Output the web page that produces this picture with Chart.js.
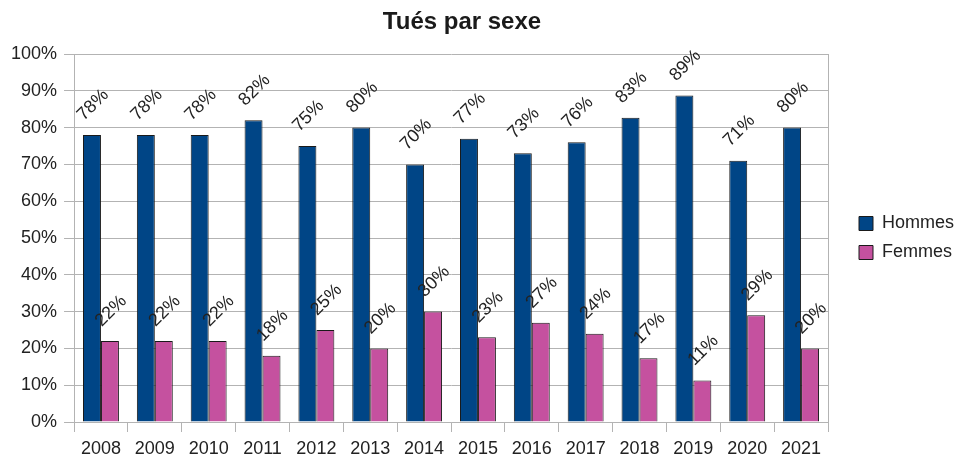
<!DOCTYPE html>
<html>
<head>
<meta charset="utf-8">
<script src="https://cdn.jsdelivr.net/npm/chart.js@4/dist/chart.umd.min.js"></script>
<style>
  body { margin: 0; background: #fff; }
  #wrap { width: 956px; height: 457px; }
</style>
</head>
<body>
<div id="wrap"><canvas id="chart"></canvas></div>
<script>
const years = ['2008', '2009', '2010', '2011', '2012', '2013', '2014', '2015', '2016', '2017', '2018', '2019', '2020', '2021']
const hommes = [78, 78, 78, 82, 75, 80, 70, 77, 73, 76, 82.7, 88.7, 71, 80]
const femmes = [22, 22, 22, 18, 25, 20, 30, 23, 27, 24, 17.3, 11.3, 29, 20]

const titleText = 'Tués par sexe'
const gridColor = '#b3b3b3'
const fontFamily = '"Liberation Sans", Arial, sans-serif'

// rotated value labels above each bar
const barLabels = {
    id: 'barLabels',
    afterDatasetsDraw(chart) {
        const ctx = chart.ctx
        ctx.save()
        ctx.font = '18px ' + fontFamily
        ctx.fillStyle = '#222'
        ctx.textAlign = 'center'
        ctx.textBaseline = 'middle'
        chart.data.datasets.forEach((ds, i) => {
            chart.getDatasetMeta(i).data.forEach((bar, j) => {
                ctx.save()
                ctx.translate(bar.x + 1, bar.y - 30)
                ctx.rotate(-Math.PI / 4)
                ctx.fillText(Math.round(ds.data[j]) + '%', 0, 0)
                ctx.restore()
            })
        })
        ctx.restore()
    }
}

// title sits a little left of the page centre in the original
const chartTitle = {
    id: 'chartTitle',
    afterDraw(chart) {
        const ctx = chart.ctx
        ctx.save()
        ctx.font = 'bold 24px ' + fontFamily
        ctx.fillStyle = '#1a1a1a'
        ctx.textAlign = 'center'
        ctx.textBaseline = 'alphabetic'
        ctx.fillText(titleText, 462, 29)
        ctx.restore()
    }
}

Chart.defaults.font.family = fontFamily
Chart.defaults.color = '#222'

new Chart(document.querySelector('#chart').getContext('2d'), {
    type: 'bar',
    data: {
        labels: years,
        datasets: [{
            label: 'Hommes',
            data: hommes,
            backgroundColor: '#004586',
            borderColor: '#1a1a1a',
            borderWidth: 1
        }, {
            label: 'Femmes',
            data: femmes,
            backgroundColor: '#c5519f',
            borderColor: '#1a1a1a',
            borderWidth: 1
        }]
    },
    options: {
        responsive: true,
        maintainAspectRatio: false,
        animation: false,
        layout: { padding: { left: 4, right: 0, top: 54, bottom: 0 } },
        datasets: { bar: { categoryPercentage: 0.667, barPercentage: 1.0 } },
        scales: {
            x: {
                grid: { drawOnChartArea: false, offset: true, tickLength: 10, color: gridColor },
                border: { color: gridColor },
                ticks: { font: { size: 18, lineHeight: 1 }, padding: 8, maxRotation: 0 },
                afterFit(scale) { scale.height = 35 }
            },
            y: {
                min: 0, max: 100,
                ticks: { stepSize: 10, font: { size: 18 }, padding: 7, callback: v => v + '%' },
                grid: { color: gridColor, tickLength: 10 },
                border: { color: gridColor }
            },
            // empty right axis: draws the right wall and keeps a gap before the legend
            y2: {
                position: 'right',
                min: 0, max: 100,
                ticks: { display: false },
                grid: { drawOnChartArea: false, drawTicks: false },
                border: { color: gridColor },
                afterFit(scale) { scale.width = 20 }
            }
        },
        plugins: {
            title: { display: false },
            legend: {
                position: 'right',
                fullSize: false,
                maxWidth: 108,
                labels: {
                    font: { size: 18 },
                    boxWidth: 14,
                    boxHeight: 14,
                    padding: 11
                }
            },
            tooltip: { enabled: false }
        }
    },
    plugins: [barLabels, chartTitle]
})
</script>
</body>
</html>
